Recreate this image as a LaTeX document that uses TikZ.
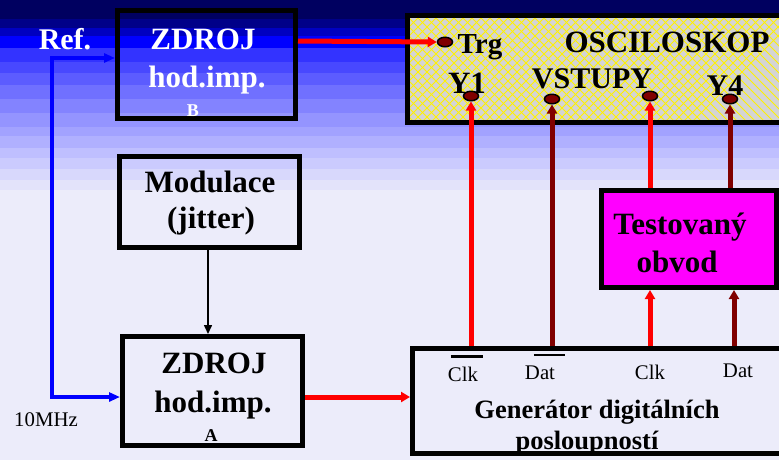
\documentclass[tikz,border=0pt]{standalone}
\usepackage{fontspec}
\setmainfont{Liberation Serif}
\usetikzlibrary{arrows.meta,shapes.geometric}
\definecolor{dred}{HTML}{800000}
\definecolor{oscgray}{HTML}{D4D4D4}
\definecolor{magbox}{HTML}{FF00FF}
\tikzset{
  box/.style={draw=black, line width=5pt, rectangle, inner sep=0pt},
  bigtxt/.style={font=\fontsize{31}{34}\selectfont\bfseries, inner sep=0pt, anchor=base},
  midtxt/.style={font=\fontsize{26.5}{30}\selectfont\bfseries, inner sep=0pt, anchor=base},
  smalltxt/.style={font=\fontsize{18}{20}\selectfont\bfseries, inner sep=0pt, anchor=base},
  plaintxt/.style={font=\fontsize{20.8}{24}\selectfont, inner sep=0pt, anchor=base},
  tip/.tip={Triangle[length=9pt,width=10pt]},
  btip/.tip={Triangle[length=11pt,width=9pt]},
  redarrow/.style={draw=red, line width=5pt, -tip},
  darrow/.style={draw=dred, line width=5pt, -tip},
  bluearrow/.style={draw=blue, line width=3.5pt, btip-btip},
  dot/.style={ellipse, draw=black, fill=dred, line width=1.5pt, minimum width=15pt, minimum height=9.5pt, inner sep=0pt},
}
\begin{document}
\begin{tikzpicture}[x=1pt,y=-1pt]
\useasboundingbox (0,0) rectangle (779,459);
\clip (0,0) rectangle (779,459);
% background bands
\foreach \ya/\yb/\col in {0/19/000060,19/28/000088,28/36/0000C0,36/48/0000FF,48/62/3333FF,62/73/4848FF,73/85/5C5CFF,85/99/7070FF,99/113/8383FF,113/127/9494FF,127/136/A2A2FF,136/148/B0B0FF,148/158/BFBFFF,158/169/CBCBFE,169/180/D8D8FC,180/190/E3E3FA,190/460/ECECFA}{
  \definecolor{bandc}{HTML}{\col}
  \fill[bandc] (0,\ya) rectangle (779,\yb);
}
% oscilloscope fill with yellow crosshatch
\begin{scope}
  \clip (407.5,15.5) rectangle (800,122.5);
  \fill[oscgray] (400,10) rectangle (800,130);
  \foreach \i in {-16,...,46}{
    \draw[yellow, line width=0.8pt] (400+\i*9,0) -- ++(140,140);
    \draw[yellow, line width=0.8pt] (400+\i*9,0) -- ++(-140,140);
  }
\end{scope}
% boxes
\node[box, minimum width=178pt, minimum height=108pt] (zdrojB) at (206.5,64.5) {};
\node[box, minimum width=180pt, minimum height=91pt] (modul) at (209.5,202) {};
\node[box, minimum width=180pt, minimum height=109pt] (zdrojA) at (212.5,391) {};
\node[box, minimum width=392.5pt, minimum height=107pt] (osc) at (603.75,69) {};
\node[box, minimum width=387.5pt, minimum height=105pt] (gen) at (606.25,401) {};
\node[box, fill=magbox, minimum width=175pt, minimum height=97pt] (test) at (689,239) {};
% texts
\node[bigtxt, text=white, font=\fontsize{30}{34}\selectfont\bfseries] (ref) at (65,49) {Ref.};
\node[bigtxt, text=white] (zbt1) at (203,49) {ZDROJ};
\node[bigtxt, text=white] (zbt2) at (207,87) {hod.imp.};
\node[smalltxt, text=white] (zbt3) at (193,116) {B};
\node[bigtxt] (mt1) at (210,192) {Modulace};
\node[bigtxt] (mt2) at (211,228) {(jitter)};
\node[bigtxt] (zat1) at (214,373) {ZDROJ};
\node[bigtxt] (zat2) at (213,412) {hod.imp.};
\node[smalltxt] (zat3) at (211,441) {A};
\node[plaintxt] (mhz) at (46,426) {10MHz};
\node[bigtxt, font=\fontsize{29}{32}\selectfont\bfseries] (trgt) at (480,53) {Trg};
\node[bigtxt] (osct) at (667,52) {OSCILOSKOP};
\node[bigtxt, font=\fontsize{31}{32}\selectfont\bfseries] (y1t) at (467,93) {Y1};
\node[bigtxt, font=\fontsize{30}{32}\selectfont\bfseries] (vst) at (592,88) {VSTUPY};
\node[bigtxt, font=\fontsize{30}{32}\selectfont\bfseries] (y4t) at (725,95) {Y4};
\node[bigtxt] (tt1) at (680,234) {Testovaný};
\node[bigtxt] (tt2) at (677,272) {obvod};
\node[plaintxt] (clk1) at (463,381) {Clk};
\node[plaintxt] (dat1) at (540,379) {Dat};
\node[plaintxt] (clk2) at (650,379) {Clk};
\node[plaintxt] (dat2) at (738,377) {Dat};
\node[midtxt] (gt1) at (597,418) {Generátor digitálních};
\node[midtxt] (gt2) at (587,449) {posloupností};
% overline bars
\draw[line width=2.5pt] ([xshift=3pt,yshift=10pt]clk1.north west) -- ([xshift=5pt,yshift=10pt]clk1.north east);
\draw[line width=2.5pt] ([xshift=9pt,yshift=10pt]dat1.north west) -- ([xshift=10pt,yshift=10pt]dat1.north east);
% dots
\node[dot] (trg) at (445,42) {};
\node[dot] (y1) at (471,96) {};
\node[dot] (v1) at (552,99) {};
\node[dot] (v2) at (650,96) {};
\node[dot] (y4) at (730,99) {};
% connectors
\coordinate (bl1) at (52,58);
\coordinate (bl2) at (52,397);
\draw[bluearrow] (zdrojB.west |- bl1) -- (bl1) -- (bl2) -- (zdrojA.west |- bl2);
\draw[redarrow] (zdrojB.east |- 0,41) -- (trg.west);
\draw[redarrow] (zdrojA.east |- 0,397) -- (gen.west |- 0,397);
\draw[black, line width=1.5pt, -{Triangle[length=9pt,width=8pt]}] (modul.south -| 208,0) -- (zdrojA.north -| 208,0);
\draw[redarrow] (gen.north -| y1.south) -- (y1.south);
\draw[darrow] (gen.north -| v1.south) -- (v1.south);
\draw[redarrow] (test.north -| v2.south) -- (v2.south);
\draw[darrow] (test.north -| y4.south) -- (y4.south);
\draw[redarrow] (gen.north -| 650,0) -- (test.south -| 650,0);
\draw[darrow] (gen.north -| 734,0) -- (test.south -| 734,0);
\end{tikzpicture}
\end{document}
